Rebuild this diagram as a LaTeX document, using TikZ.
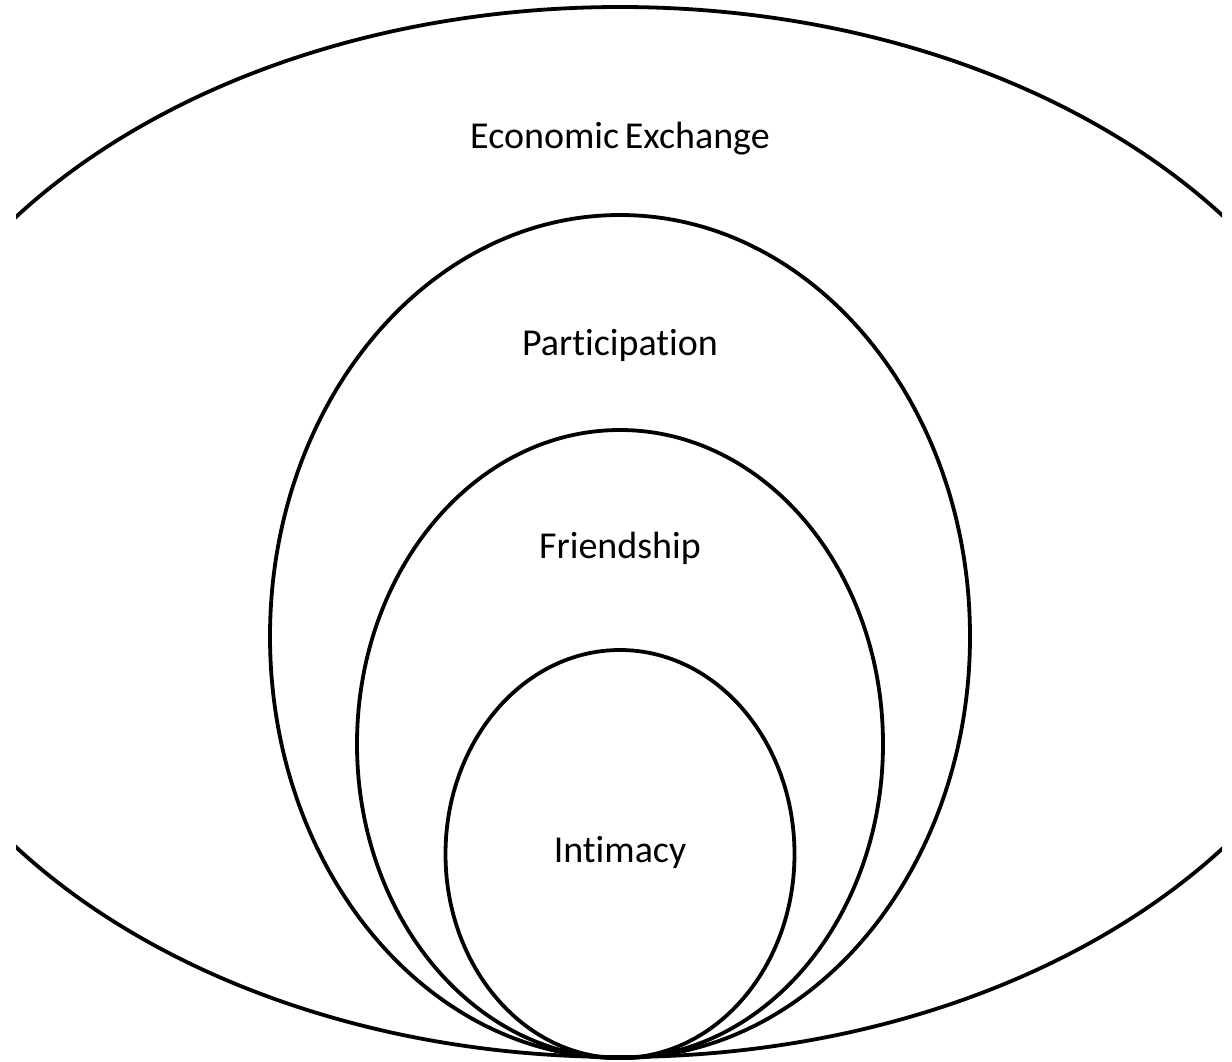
\documentclass[tikz,border=0pt]{standalone}
\usepackage{fontspec}
\setmainfont{Carlito}[Ligatures=NoCommon]
\usetikzlibrary{positioning}

\tikzstyle{ring} = [draw=black, line width=1.9pt]
\tikzstyle{ringlabel} = [font=\fontsize{19}{23}\selectfont, inner sep=0pt]

\begin{document}
\begin{tikzpicture}[x=0.5pt, y=-0.5pt]

\useasboundingbox (0,0) rectangle (1232,1061);
\clip (16,0) rectangle (1222,1061);

% nested rings, all touching at the bottom
\draw[ring] (620,532) ellipse [x radius=377.5pt, y radius=262.5pt];
\draw[ring] (620,636.5) ellipse [x radius=175pt, y radius=210.75pt];
\draw[ring] (620,744) ellipse [x radius=131.5pt, y radius=157pt];
\draw[ring] (620,854) ellipse [x radius=87.25pt, y radius=102pt];

\node[ringlabel] (exchange) at (620,139) {Economic\hspace{0.15em}Exchange};
\node[ringlabel] (participation) at (620,345) {Participation};
\node[ringlabel] (friendship) at (620,548) {Friendship};
\node[ringlabel] (intimacy) at (620,852) {Intimacy};

\end{tikzpicture}
\end{document}
